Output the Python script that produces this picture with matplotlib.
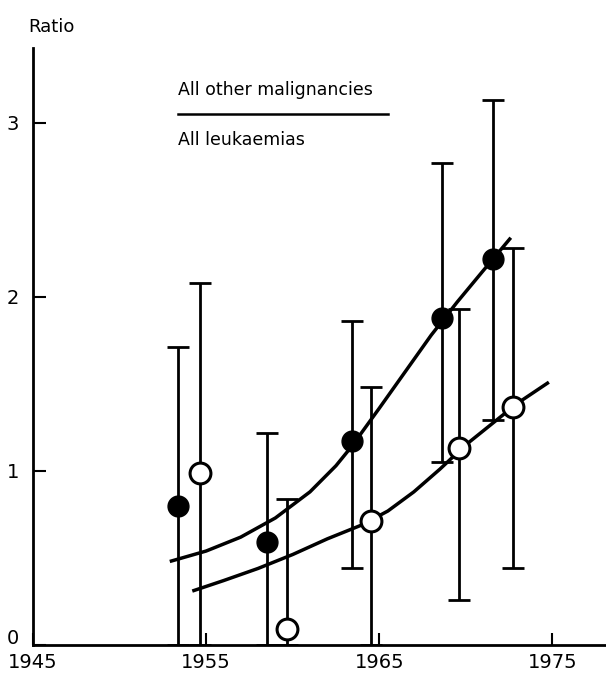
import numpy as np
import matplotlib
matplotlib.use('Agg')
import matplotlib.pyplot as plt
import matplotlib.transforms as mtransforms

plt.rcParams['font.family'] = ['DejaVu Sans']

# filled circles (first series)
yr_fill = [1953.4, 1958.5, 1963.4, 1968.6, 1971.6]
val_fill = [0.80, 0.59, 1.17, 1.88, 2.22]
lo_fill = [0.0, 0.0, 0.44, 1.05, 1.29]
hi_fill = [1.71, 1.22, 1.86, 2.77, 3.13]

# open circles (second series)
yr_open = [1954.65, 1959.7, 1964.5, 1969.6, 1972.7]
val_open = [0.99, 0.09, 0.71, 1.13, 1.37]
lo_open = [0.0, 0.0, 0.0, 0.26, 0.44]
hi_open = [2.08, 0.84, 1.48, 1.93, 2.28]

# fitted curves
curve_fill_x = [1952.9, 1955.0, 1957.0, 1959.0, 1961.0, 1962.5, 1963.4, 1965.0, 1966.5, 1968.0, 1969.5, 1971.0, 1972.6]
curve_fill_y = [0.48, 0.54, 0.62, 0.73, 0.88, 1.03, 1.14, 1.36, 1.57, 1.78, 1.97, 2.15, 2.34]
curve_open_x = [1954.2, 1956.0, 1958.0, 1960.0, 1962.0, 1964.0, 1965.5, 1967.0, 1968.5, 1970.0, 1971.5, 1973.0, 1974.8]
curve_open_y = [0.31, 0.37, 0.44, 0.52, 0.61, 0.69, 0.77, 0.88, 1.01, 1.15, 1.27, 1.39, 1.51]

xticks = [1945, 1955, 1965, 1975]
yticks = [0, 1, 2, 3]

fig = plt.figure(figsize=(6.06, 6.75), dpi=100)
ax = fig.add_axes([0.0545, 0.0444, 0.9455, 0.8845])

lw_bar = 2.0
cap = 8
for x, v, lo, hi in zip(yr_fill, val_fill, lo_fill, hi_fill):
    ax.errorbar([x], [v], yerr=[[v - lo], [hi - v]], fmt='none', ecolor='black',
                elinewidth=lw_bar, capsize=cap, capthick=lw_bar, zorder=2)
for x, v, lo, hi in zip(yr_open, val_open, lo_open, hi_open):
    ax.errorbar([x], [v], yerr=[[v - lo], [hi - v]], fmt='none', ecolor='black',
                elinewidth=lw_bar, capsize=cap, capthick=lw_bar, zorder=2)

ax.plot(curve_fill_x, curve_fill_y, color='black', lw=2.5, zorder=3,
        solid_capstyle='butt', solid_joinstyle='round')
ax.plot(curve_open_x, curve_open_y, color='black', lw=2.5, zorder=3,
        solid_capstyle='butt', solid_joinstyle='round')

ax.plot(yr_fill, val_fill, 'o', ms=15, color='black', zorder=4)
ax.plot(yr_open, val_open, 'o', ms=15, mfc='white', mec='black', mew=2.2, zorder=4)

ax.set_xlim(1945, 1978.1)
ax.set_ylim(0, 3.43)
ax.set_xticks(xticks)
ax.set_xticklabels([str(t) for t in xticks])
ax.set_yticks(yticks)
ax.set_yticklabels([str(t) for t in yticks])
ax.tick_params(axis='both', direction='in', length=9, width=1.5, labelsize=14, pad=6)
ax.tick_params(axis='y', pad=10)
for s in ['top', 'right']:
    ax.spines[s].set_visible(False)
for s in ['left', 'bottom']:
    ax.spines[s].set_linewidth(2)

# lift the "0" label a little so it clears "1945"
lbl0 = ax.get_yticklabels()[0]
lbl0.set_transform(lbl0.get_transform() + mtransforms.ScaledTranslation(0, 6 / 72, fig.dpi_scale_trans))

fig.text(28 / 606, 1 - 27 / 675, 'Ratio', fontsize=13, va='center', ha='left')
ax.text(1953.4, 3.19, 'All other malignancies', fontsize=12.5, va='center', ha='left')
ax.plot([1953.4, 1965.5], [3.05, 3.05], color='black', lw=1.8)
ax.text(1953.4, 2.90, 'All leukaemias', fontsize=12.5, va='center', ha='left')

fig.savefig('out.png', dpi=100)
